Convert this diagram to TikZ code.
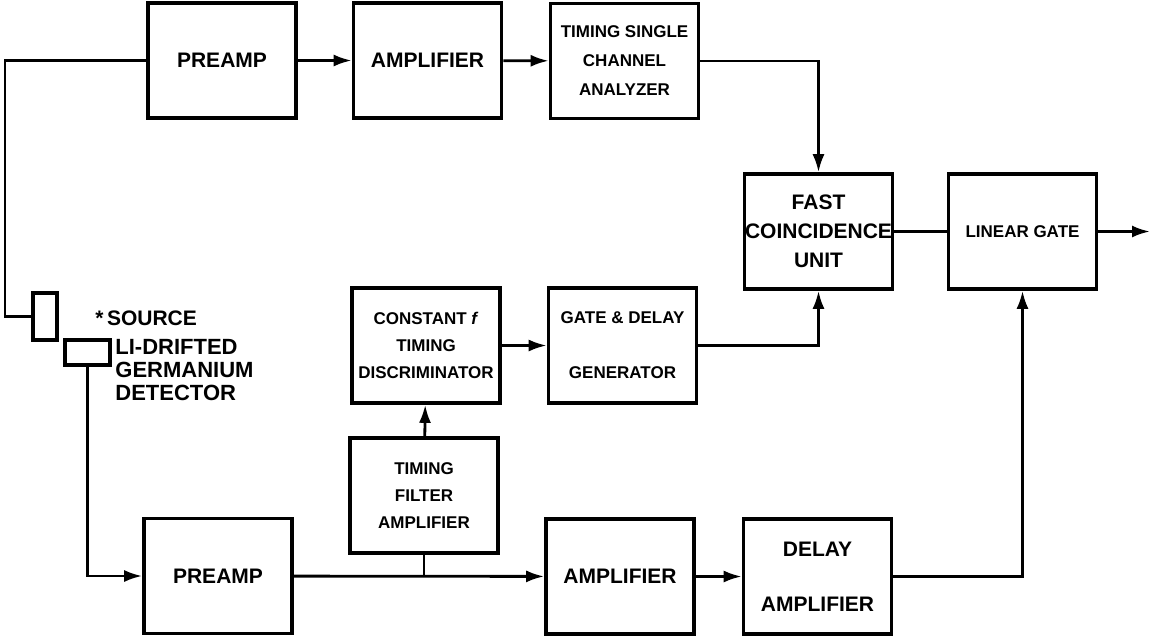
\documentclass[tikz,border=0pt]{standalone}
\usepackage{fontspec}
\setmainfont{Liberation Sans}
\usetikzlibrary{arrows.meta}

\begin{document}
\begin{tikzpicture}[x=0.5pt,y=-0.5pt,
  box/.style={draw=black,line width=1.8pt,inner sep=0pt,align=center,minimum width=74pt,minimum height=57.5pt},
  big/.style={font=\fontsize{10.5}{14.5}\selectfont\bfseries},
  sml/.style={font=\fontsize{8.5}{13.5}\selectfont\bfseries},
  wire/.style={line width=1.4pt},
  flow/.style={wire,-{Latex[length=9pt,width=6pt]}}]

\useasboundingbox (0,0) rectangle (1151,638);

% upper channel
\node (tpre) at (222,60.5) [box,big] {PREAMP};
\node (tamp) at (427.5,60.5) [box,big] {AMPLIFIER};
\node (tsca) at (624.5,61) [box,sml] {TIMING SINGLE\\[1pt]CHANNEL\\[1pt]ANALYZER};
\node (fcu) at (818.5,231.5) [box,big] {FAST\\COINCIDENCE\\UNIT};
\node (lg) at (1022.5,231.5) [box,sml] {LINEAR GATE};

% timing branch
\node (cftd) at (426,345.5) [box,sml] {CONSTANT \textit{f}\\TIMING\\DISCRIMINATOR};
\node (gdg) at (622.5,345.5) [box,sml] {GATE \& DELAY\\[14pt]GENERATOR};
\node (tfa) at (424,495.5) [box,sml] {TIMING\\FILTER\\AMPLIFIER};

% lower channel
\node (bpre) at (218,576) [box,big] {PREAMP};
\node (bamp) at (620,576.5) [box,big] {AMPLIFIER};
\node (damp) at (817.5,576.5) [box,big] {DELAY\\[13pt]AMPLIFIER};

% source and detector
\node (src) at (45,316.5) [draw=black,line width=1.8pt,minimum width=12pt,minimum height=23.5pt,inner sep=0pt] {};
\node (det) at (87.5,352.5) [draw=black,line width=1.8pt,minimum width=22.5pt,minimum height=12.5pt,inner sep=0pt] {};
\node (srclbl) at (95,318) [anchor=west,inner sep=0pt,big] {*\,SOURCE};
\node (detlbl) at (115,339) [anchor=north west,inner sep=0pt,align=left,font=\fontsize{11}{11.5}\selectfont\bfseries] {LI-DRIFTED\\GERMANIUM\\DETECTOR};
\coordinate (bend) at (5,316.5);
\coordinate (out) at (1150,231.5);

\draw[flow] (tpre) -- (tamp);
\draw[flow] (tamp) -- (tsca);
\draw[flow] (tsca.east) -| (fcu.north);
\draw[wire] (fcu) -- (lg);
\draw[flow] (lg.east) -- (out);
\draw[flow] (cftd) -- (gdg);
\draw[flow] (gdg.east) -| (fcu.south);
\draw[flow] (tfa) -- (cftd);
\draw[wire] (tpre.west) -| (bend) -- (src.west);
\draw[flow] (det.south) |- (bpre.west);
\draw[flow] (bpre) -- (bamp);
\draw[wire] (tfa.south) -- (tfa.south |- bpre.east);
\draw[flow] (bamp) -- (damp);
\draw[flow] (damp.east) -| (lg.south);

\end{tikzpicture}
\end{document}
